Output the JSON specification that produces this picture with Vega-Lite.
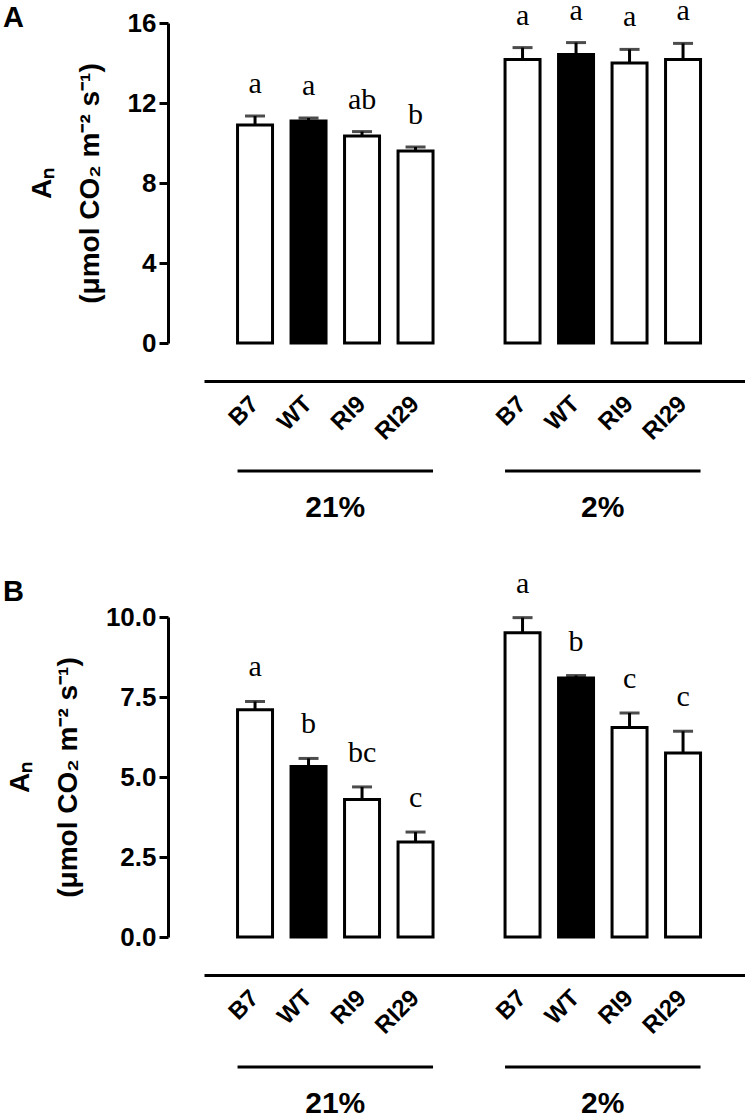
{
  "$schema": "https://vega.github.io/schema/vega-lite/v6.json",
  "padding": {"left": 3, "top": -5, "right": 0, "bottom": 0},
  "background": "white",
  "config": {
    "view": {"stroke": null},
    "font": "Liberation Sans",
    "axis": {"grid": false, "domainColor": "black", "domainWidth": 3, "tickColor": "black", "labelColor": "black", "titleColor": "black"}
  },
  "datasets": {
    "bars": [
      {"panel": "A", "key": "21%|B7", "line": "B7", "value": 10.9, "err": 11.35, "sig": "a"},
      {"panel": "A", "key": "21%|WT", "line": "WT", "value": 11.1, "err": 11.25, "sig": "a"},
      {"panel": "A", "key": "21%|RI9", "line": "RI9", "value": 10.35, "err": 10.57, "sig": "ab"},
      {"panel": "A", "key": "21%|RI29", "line": "RI29", "value": 9.6, "err": 9.8, "sig": "b"},
      {"panel": "A", "key": "2%|B7", "line": "B7", "value": 14.17, "err": 14.77, "sig": "a"},
      {"panel": "A", "key": "2%|WT", "line": "WT", "value": 14.42, "err": 15.02, "sig": "a"},
      {"panel": "A", "key": "2%|RI9", "line": "RI9", "value": 14.0, "err": 14.68, "sig": "a"},
      {"panel": "A", "key": "2%|RI29", "line": "RI29", "value": 14.17, "err": 14.98, "sig": "a"},
      {"panel": "B", "key": "21%|B7", "line": "B7", "value": 7.1, "err": 7.36, "sig": "a"},
      {"panel": "B", "key": "21%|WT", "line": "WT", "value": 5.33, "err": 5.58, "sig": "b"},
      {"panel": "B", "key": "21%|RI9", "line": "RI9", "value": 4.3, "err": 4.69, "sig": "bc"},
      {"panel": "B", "key": "21%|RI29", "line": "RI29", "value": 2.97, "err": 3.28, "sig": "c"},
      {"panel": "B", "key": "2%|B7", "line": "B7", "value": 9.51, "err": 9.98, "sig": "a"},
      {"panel": "B", "key": "2%|WT", "line": "WT", "value": 8.09, "err": 8.17, "sig": "b"},
      {"panel": "B", "key": "2%|RI9", "line": "RI9", "value": 6.55, "err": 7.0, "sig": "c"},
      {"panel": "B", "key": "2%|RI29", "line": "RI29", "value": 5.75, "err": 6.43, "sig": "c"}
    ],
    "groups": [
      {"group": "21%", "start": "21%|B7", "end": "21%|RI29", "mid": "21%|WT"},
      {"group": "2%", "start": "2%|B7", "end": "2%|RI29", "mid": "2%|WT"}
    ]
  },
  "spacing": 45,
  "vconcat": [
    {
      "spacing": 21,
      "vconcat": [
        {
          "width": 541,
          "height": 320,
          "title": {"text": "A", "anchor": "start", "frame": "group", "dx": -201, "offset": -37, "fontSize": 29, "fontWeight": "bold", "font": "Liberation Sans", "color": "black"},
          "data": {"name": "bars"},
          "transform": [{"filter": "datum.panel === 'A'"}],
          "encoding": {
            "x": {
              "field": "key", "type": "nominal",
              "scale": {"domain": ["21%|B7", "21%|WT", "21%|RI9", "21%|RI29", " ", "2%|B7", "2%|WT", "2%|RI9", "2%|RI29"], "paddingInner": 0.346, "paddingOuter": 0.729, "align": 0.43},
              "axis": {"title": null, "ticks": false, "offset": 38, "labelAngle": -45, "labelAlign": "right", "labelBaseline": "middle", "labelPadding": 19, "labelFontSize": 24, "labelFontWeight": "bold", "labelFont": "Liberation Sans", "labelExpr": "slice(datum.label, indexof(datum.label, '|') + 1)"}
            }
          },
          "layer": [
            {
              "mark": {"type": "bar", "stroke": "black", "strokeWidth": 3},
              "encoding": {
                "y": {"field": "value", "type": "quantitative", "scale": {"domain": [0, 16], "nice": false},
                  "axis": {"values": [0, 4, 8, 12, 16], "offset": 36, "tickSize": 9, "tickWidth": 3, "labelFontSize": 26, "labelFontWeight": "bold", "labelPadding": 3, "labelFont": "Liberation Sans",
                    "title": ["Aₙ", "(μmol CO₂ m⁻² s⁻¹)"], "titleFontSize": 28, "titleFontWeight": "bold", "titleFont": "Liberation Sans", "titleLineHeight": 48, "titlePadding": 23}},
                "fill": {"field": "line", "type": "nominal", "scale": {"domain": ["B7", "WT", "RI9", "RI29"], "range": ["white", "black", "white", "white"]}, "legend": null}
              }
            },
            {
              "mark": {"type": "rule", "color": "black", "strokeWidth": 3},
              "encoding": {"y": {"field": "value", "type": "quantitative"}, "y2": {"field": "err"}}
            },
            {
              "mark": {"type": "tick", "color": "black", "thickness": 3, "size": 20},
              "encoding": {"y": {"field": "err", "type": "quantitative"}}
            },
            {
              "mark": {"type": "text", "font": "Liberation Serif", "fontSize": 30, "color": "black", "baseline": "alphabetic", "dy": -23},
              "encoding": {"y": {"field": "err", "type": "quantitative"}, "text": {"field": "sig"}}
            }
          ]
        },
        {
          "width": 541,
          "height": 10,
          "data": {"name": "groups"},
          "encoding": {
            "x": {"field": "start", "type": "nominal", "bandPosition": 0,
              "scale": {"domain": ["21%|B7", "21%|WT", "21%|RI9", "21%|RI29", " ", "2%|B7", "2%|WT", "2%|RI9", "2%|RI29"], "paddingInner": 0.346, "paddingOuter": 0.729, "align": 0.43},
              "axis": null}
          },
          "layer": [
            {
              "mark": {"type": "rule", "color": "black", "strokeWidth": 3},
              "encoding": {"x2": {"field": "end", "bandPosition": 1}}
            },
            {
              "mark": {"type": "text", "fontSize": 30, "fontWeight": "bold", "font": "Liberation Sans", "color": "black", "baseline": "alphabetic", "dy": 46},
              "encoding": {"x": {"field": "mid", "type": "nominal", "bandPosition": 1.264}, "text": {"field": "group"}}
            }
          ]
        }
      ]
    },
    {
      "spacing": 23,
      "vconcat": [
        {
          "width": 541,
          "height": 320,
          "title": {"text": "B", "anchor": "start", "frame": "group", "dx": -201, "offset": -38, "fontSize": 29, "fontWeight": "bold", "font": "Liberation Sans", "color": "black"},
          "data": {"name": "bars"},
          "transform": [{"filter": "datum.panel === 'B'"}],
          "encoding": {
            "x": {
              "field": "key", "type": "nominal",
              "scale": {"domain": ["21%|B7", "21%|WT", "21%|RI9", "21%|RI29", " ", "2%|B7", "2%|WT", "2%|RI9", "2%|RI29"], "paddingInner": 0.346, "paddingOuter": 0.729, "align": 0.43},
              "axis": {"title": null, "ticks": false, "offset": 38, "labelAngle": -45, "labelAlign": "right", "labelBaseline": "middle", "labelPadding": 19, "labelFontSize": 24, "labelFontWeight": "bold", "labelFont": "Liberation Sans", "labelExpr": "slice(datum.label, indexof(datum.label, '|') + 1)"}
            }
          },
          "layer": [
            {
              "mark": {"type": "bar", "stroke": "black", "strokeWidth": 3},
              "encoding": {
                "y": {"field": "value", "type": "quantitative", "scale": {"domain": [0, 10], "nice": false},
                  "axis": {"values": [0, 2.5, 5, 7.5, 10], "format": ".1f", "offset": 36, "tickSize": 9, "tickWidth": 3, "labelFontSize": 26, "labelFontWeight": "bold", "labelPadding": 3, "labelFont": "Liberation Sans",
                    "title": ["Aₙ", "(μmol CO₂ m⁻² s⁻¹)"], "titleFontSize": 28, "titleFontWeight": "bold", "titleFont": "Liberation Sans", "titleLineHeight": 48, "titlePadding": 23}},
                "fill": {"field": "line", "type": "nominal", "scale": {"domain": ["B7", "WT", "RI9", "RI29"], "range": ["white", "black", "white", "white"]}, "legend": null}
              }
            },
            {
              "mark": {"type": "rule", "color": "black", "strokeWidth": 3},
              "encoding": {"y": {"field": "value", "type": "quantitative"}, "y2": {"field": "err"}}
            },
            {
              "mark": {"type": "tick", "color": "black", "thickness": 3, "size": 20},
              "encoding": {"y": {"field": "err", "type": "quantitative"}}
            },
            {
              "mark": {"type": "text", "font": "Liberation Serif", "fontSize": 30, "color": "black", "baseline": "alphabetic", "dy": -25},
              "encoding": {"y": {"field": "err", "type": "quantitative"}, "text": {"field": "sig"}}
            }
          ]
        },
        {
          "width": 541,
          "height": 10,
          "data": {"name": "groups"},
          "encoding": {
            "x": {"field": "start", "type": "nominal", "bandPosition": 0,
              "scale": {"domain": ["21%|B7", "21%|WT", "21%|RI9", "21%|RI29", " ", "2%|B7", "2%|WT", "2%|RI9", "2%|RI29"], "paddingInner": 0.346, "paddingOuter": 0.729, "align": 0.43},
              "axis": null}
          },
          "layer": [
            {
              "mark": {"type": "rule", "color": "black", "strokeWidth": 3},
              "encoding": {"x2": {"field": "end", "bandPosition": 1}}
            },
            {
              "mark": {"type": "text", "fontSize": 30, "fontWeight": "bold", "font": "Liberation Sans", "color": "black", "baseline": "alphabetic", "dy": 46},
              "encoding": {"x": {"field": "mid", "type": "nominal", "bandPosition": 1.264}, "text": {"field": "group"}}
            }
          ]
        }
      ]
    }
  ]
}
